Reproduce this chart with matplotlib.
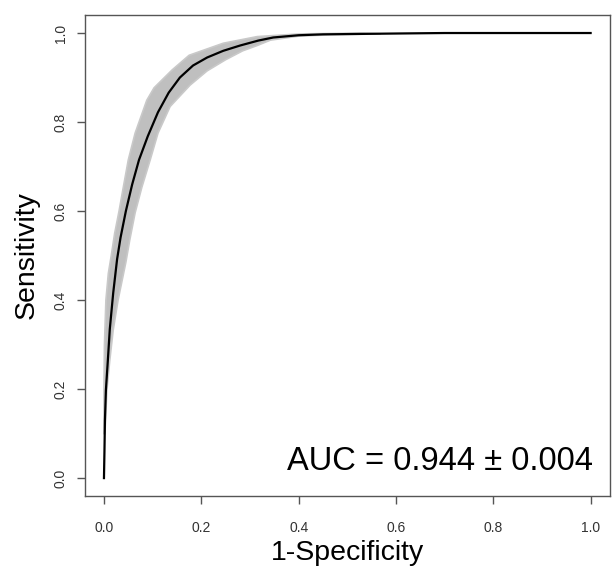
import matplotlib
matplotlib.use('Agg')
import matplotlib.pyplot as plt

plt.rcParams['font.family'] = ['Liberation Sans', 'DejaVu Sans']

# mean ROC curve (1-specificity, sensitivity)
mean_fpr = [0.0, 0.001, 0.002, 0.004, 0.008, 0.012, 0.019, 0.027, 0.034, 0.045,
            0.058, 0.072, 0.090, 0.111, 0.133, 0.156, 0.183, 0.212, 0.245, 0.280,
            0.317, 0.348, 0.400, 0.450, 0.527, 0.609, 0.700, 1.0]
mean_tpr = [0.0, 0.060, 0.130, 0.198, 0.265, 0.335, 0.416, 0.492, 0.540, 0.600,
            0.660, 0.715, 0.768, 0.822, 0.866, 0.900, 0.927, 0.945, 0.960, 0.972,
            0.983, 0.990, 0.995, 0.997, 0.998, 0.999, 1.0, 1.0]

# envelope of the resampled ROC curves (upper-left edge and lower-right edge)
upper_fpr = [0.0, 0.0, 0.001, 0.004, 0.009, 0.015, 0.022, 0.031, 0.040, 0.050,
             0.064, 0.088, 0.103, 0.140, 0.175, 0.245, 0.315, 0.403, 0.527]
upper_tpr = [0.10, 0.20, 0.30, 0.40, 0.46, 0.50, 0.55, 0.60, 0.655, 0.715,
             0.775, 0.849, 0.877, 0.917, 0.950, 0.977, 0.992, 0.998, 1.0]
lower_fpr = [0.002, 0.006, 0.012, 0.019, 0.029, 0.045, 0.053, 0.064, 0.078, 0.095,
             0.111, 0.136, 0.177, 0.212, 0.250, 0.285, 0.315, 0.342, 0.400, 0.465,
             0.568]
lower_tpr = [0.10, 0.198, 0.265, 0.333, 0.400, 0.485, 0.535, 0.596, 0.654, 0.715,
             0.775, 0.835, 0.883, 0.915, 0.940, 0.960, 0.972, 0.984, 0.993, 0.996,
             0.998]

ticks = [0.0, 0.2, 0.4, 0.6, 0.8, 1.0]
tick_labels = ['0.0', '0.2', '0.4', '0.6', '0.8', '1.0']
auc_text = 'AUC = 0.944 \u00b1 0.004'

fig = plt.figure(figsize=(6.15, 5.7), dpi=100)
ax = fig.add_axes([0.1374, 0.130, 0.8546, 0.8433])

band_x = upper_fpr + lower_fpr[::-1]
band_y = upper_tpr + lower_tpr[::-1]
ax.fill(band_x, band_y, color='#bfbfbf', lw=1.2, ec='#c9c9c9', zorder=1)
ax.plot(mean_fpr, mean_tpr, color='black', lw=1.6, zorder=3)

ax.set_xlim(-0.04, 1.04)
ax.set_ylim(-0.04, 1.04)
ax.set_xticks(ticks)
ax.set_xticklabels(tick_labels)
ax.set_yticks(ticks)
ax.set_yticklabels(tick_labels, rotation=90, va='center')

for s in ax.spines.values():
    s.set_color('#555555')
    s.set_linewidth(1.0)
ax.tick_params(direction='out', length=6, width=1.0, color='#555555',
               labelsize=10, labelcolor='#333333')
ax.tick_params(axis='x', pad=12)
ax.tick_params(axis='y', pad=6)

ax.set_xlabel('1-Specificity', fontsize=20.5, labelpad=4)
ax.set_ylabel('Sensitivity', fontsize=20.5, labelpad=10)

ax.text(1.005, 0.018, auc_text, fontsize=23.5, ha='right', va='baseline')

fig.savefig('out.png', dpi=100)
